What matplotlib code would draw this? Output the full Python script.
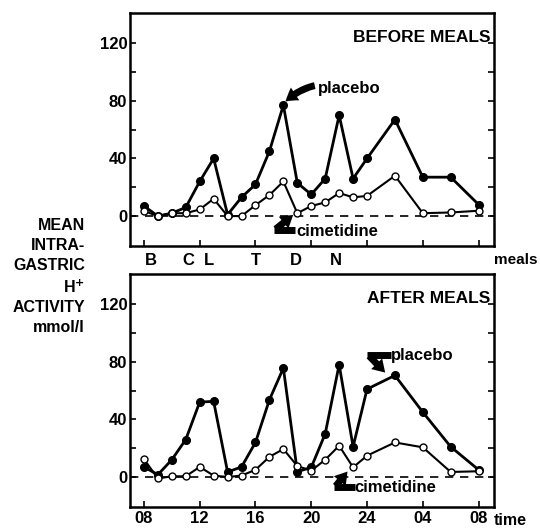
import matplotlib
matplotlib.use("Agg")
import matplotlib.pyplot as plt
import matplotlib.transforms as mtransforms
import numpy as np

plt.rcParams['font.family'] = ['Liberation Sans', 'DejaVu Sans']
plt.rcParams['font.weight'] = 'bold'

# clock hours, 8 = 08:00 on day one, 32 = 08:00 next morning
hours = [8, 9, 10, 11, 12, 13, 14, 15, 16, 17, 18, 19, 20, 21, 22, 23, 24, 26, 28, 30, 32]

before_placebo = [7, 0, 2, 6, 24, 40, 1, 13, 22, 45, 77, 23, 15, 26, 70, 26, 40, 67, 27, 27, 8]
before_cimetidine = [3.5, 0, 2, 2, 4.6, 12, 0, 0, 7.6, 14.6, 24, 2, 7, 9.5, 16, 13, 14, 28, 2, 2.5, 3.7]

after_placebo = [7, 1.6, 12, 26, 52, 52.5, 3.5, 7, 24, 53.6, 75.6, 3.7, 6.7, 30, 78, 21, 61, 70.5, 45, 21, 5]
after_cimetidine = [12.5, -1, 0.5, 0.5, 7, 1, 0, 1, 5, 14, 19.4, 7.6, 4.4, 12, 21.7, 6.7, 14.8, 24, 20.6, 3.5, 4]

time_ticks = [8, 12, 16, 20, 24, 28, 32]
time_labels = ['08', '12', '16', '20', '24', '04', '08']

meal_hours = [8.5, 11.2, 12.7, 16.0, 18.9, 21.8]
meal_letters = ['B', 'C', 'L', 'T', 'D', 'N']

XLIM = (7.0, 33.1)
YLIM = (-20.8, 140.8)
FS = 12

fig = plt.figure(figsize=(5.4, 5.28), dpi=100)
ax_top = fig.add_axes([0.2407, 0.534, 0.674, 0.441])
ax_bot = fig.add_axes([0.2407, 0.0398, 0.674, 0.441])


def style_axes(ax, show_xlabels):
    ax.set_xlim(*XLIM)
    ax.set_ylim(*YLIM)
    for s in ax.spines.values():
        s.set_linewidth(1.8)
    ax.set_xticks(time_ticks)
    if show_xlabels:
        ax.set_xticklabels(time_labels, fontsize=FS, fontweight='bold')
    else:
        ax.set_xticklabels([])
    ax.set_yticks([0, 40, 80, 120])
    ax.set_yticklabels(['0', '40', '80', '120'], fontsize=FS, fontweight='bold')
    ax.set_yticks([20, 60, 100], minor=True)
    ax.tick_params(axis='both', which='both', direction='in', length=4, width=1.2,
                   right=True, pad=3)
    ax.tick_params(axis='y', which='major', pad=2)
    ax.axhline(0, color='black', lw=1.2, ls=(0, (5, 4)), zorder=1)


def draw_series(ax, placebo, cimetidine):
    ax.plot(hours, placebo, color='black', lw=2.0, marker='o', ms=5.5,
            mfc='black', mec='black', zorder=3)
    ax.plot(hours, cimetidine, color='black', lw=1.5, marker='o', ms=5,
            mfc='white', mec='black', mew=1.0, zorder=4)


style_axes(ax_top, False)
style_axes(ax_bot, True)
draw_series(ax_top, before_placebo, before_cimetidine)
draw_series(ax_bot, after_placebo, after_cimetidine)

ax_top.text(0.99, 0.895, 'BEFORE MEALS', transform=ax_top.transAxes, ha='right',
            va='center', fontsize=12.5, fontweight='heavy')
ax_bot.text(0.99, 0.895, 'AFTER MEALS', transform=ax_bot.transAxes, ha='right',
            va='center', fontsize=12.5, fontweight='heavy')

arrow_kw = dict(arrowstyle='simple,head_length=0.8,head_width=1.0,tail_width=0.45',
                fc='black', ec='black', lw=0, shrinkA=0, shrinkB=0, mutation_scale=11)
bar_kw = dict(color='black', lw=5, solid_capstyle='butt')

# top panel labels
ax_top.annotate('placebo', xy=(18.15, 79.5), xytext=(20.45, 88.5), fontsize=FS,
                fontweight='bold', va='center', ha='left',
                arrowprops=dict(connectionstyle='arc3,rad=0.3', **arrow_kw))
ax_top.text(18.9, -10.4, 'cimetidine', fontsize=FS, fontweight='bold', va='center', ha='left')
ax_top.plot([17.3, 18.85], [-10.0, -10.0], **bar_kw)
ax_top.annotate('', xy=(18.7, 0.8), xytext=(17.45, -9.0),
                arrowprops=dict(connectionstyle='arc3,rad=0', **arrow_kw))

# bottom panel labels
ax_bot.text(25.7, 84.6, 'placebo', fontsize=FS, fontweight='bold', va='center', ha='left')
ax_bot.plot([24.0, 25.75], [84.6, 84.6], **bar_kw)
ax_bot.annotate('', xy=(25.3, 72.5), xytext=(24.15, 84.0),
                arrowprops=dict(connectionstyle='arc3,rad=0', **arrow_kw))
ax_bot.text(23.1, -7.5, 'cimetidine', fontsize=FS, fontweight='bold', va='center', ha='left')
ax_bot.plot([21.6, 23.15], [-7.2, -7.2], **bar_kw)
ax_bot.annotate('', xy=(22.6, 3.8), xytext=(21.75, -6.3),
                arrowprops=dict(connectionstyle='arc3,rad=0', **arrow_kw))

# meals row
trans_top = mtransforms.blended_transform_factory(ax_top.transData, ax_top.transAxes)
for h, letter in zip(meal_hours, meal_letters):
    ax_top.text(h, -0.06, letter, transform=trans_top, ha='center', va='center',
                fontsize=FS, fontweight='bold', clip_on=False)
ax_top.text(33.1, -0.06, 'meals', transform=trans_top, ha='left', va='center',
            fontsize=11, fontweight='bold', clip_on=False)

trans_bot = mtransforms.blended_transform_factory(ax_bot.transData, ax_bot.transAxes)
ax_bot.text(33.1, -0.057, 'time', transform=trans_bot, ha='left', va='center',
            fontsize=11.5, fontweight='bold', clip_on=False)

# y axis title, line by line
ylabel_lines = ['MEAN', 'INTRA-', 'GASTRIC', 'H$^{\\mathbf{+}}$', 'ACTIVITY', 'mmol/l']
ylabel_y = [225, 245, 266, 287, 307, 328]
for line, y in zip(ylabel_lines, ylabel_y):
    fig.text(85 / 540, 1 - y / 528, line, ha='right', va='center', fontsize=11.5,
             fontweight='bold')

fig.savefig('out.png', dpi=100)
